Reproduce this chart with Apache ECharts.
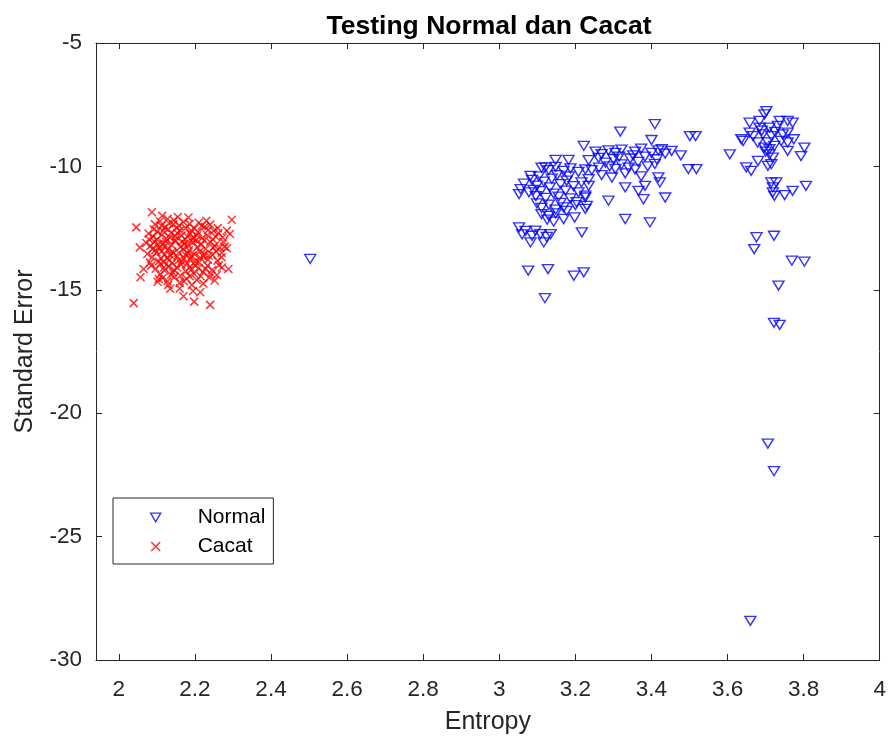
<!DOCTYPE html>
<html>
<head>
<meta charset="utf-8">
<script src="https://cdn.jsdelivr.net/npm/echarts@6/dist/echarts.min.js"></script>
<style>
  html, body { margin: 0; padding: 0; background: #ffffff; }
  #chart { width: 889px; height: 740px; }
</style>
</head>
<body>
<div id="chart"></div>
<script>
// Tick positions on both axes
const xTicks = [2, 2.2, 2.4, 2.6, 2.8, 3, 3.2, 3.4, 3.6, 3.8, 4];
const yTicks = [-30, -25, -20, -15, -10, -5];

// [Entropy, Standard Error] for the "Normal" samples
const normalData = [
  [2.503, -13.75],
  [3.409, -8.29], [3.318, -8.59], [3.501, -8.77], [3.516, -8.77], [3.222, -9.17], [3.400, -8.93],
  [3.497, -10.11], [3.518, -10.11], [3.477, -9.55], [3.453, -9.37], [3.427, -9.30], [3.414, -9.71],
  [3.418, -10.44], [3.422, -10.65], [3.436, -11.26], [3.396, -12.27], [3.331, -12.13], [3.287, -11.39],
  [3.379, -11.33], [3.366, -10.99], [3.383, -10.79], [3.331, -10.85], [3.217, -12.67], [3.196, -14.43],
  [3.222, -14.29], [3.076, -14.22], [3.128, -14.16], [3.120, -15.34], [3.052, -12.47], [3.069, -12.61],
  [3.086, -12.81], [3.082, -13.08], [3.108, -12.74], [3.117, -13.08], [3.135, -12.74], [3.125, -12.86],
  [3.198, -12.07], [3.169, -12.13], [3.143, -12.24], [3.126, -12.16], [3.169, -11.66], [3.200, -11.57],
  [3.230, -11.60], [3.226, -11.26], [3.235, -10.79],
  [3.056, -10.92], [3.052, -11.12], [3.082, -10.38], [3.121, -10.04], [3.148, -9.74], [3.182, -9.74],
  [3.111, -10.05], [3.130, -10.15], [3.148, -10.02], [3.169, -10.18], [3.187, -10.08], [3.208, -10.22], [3.226, -10.12],
  [3.065, -10.70], [3.086, -10.55], [3.099, -10.78], [3.117, -10.62], [3.138, -10.50], [3.161, -10.72],
  [3.177, -10.58], [3.195, -10.80], [3.216, -10.65], [3.235, -10.52],
  [3.078, -11.05], [3.096, -11.20], [3.109, -11.00], [3.122, -11.28], [3.143, -11.10], [3.156, -11.22],
  [3.174, -10.98], [3.187, -11.30], [3.208, -11.05], [3.226, -11.18],
  [3.099, -11.50], [3.111, -11.68], [3.130, -11.55], [3.148, -11.75], [3.161, -11.48], [3.177, -11.80],
  [3.203, -11.45], [3.226, -11.72], [3.111, -11.93], [3.130, -12.00], [3.148, -11.90],
  [3.253, -9.40], [3.269, -9.50], [3.287, -9.35], [3.305, -9.45], [3.321, -9.32], [3.357, -9.40],
  [3.373, -9.28], [3.400, -9.45], [3.418, -9.35], [3.436, -9.48],
  [3.235, -9.75], [3.261, -9.65], [3.279, -9.85], [3.300, -9.70], [3.321, -9.92], [3.344, -9.68],
  [3.365, -9.82], [3.383, -9.60], [3.409, -9.90],
  [3.243, -10.15], [3.269, -10.35], [3.305, -10.10], [3.331, -10.28], [3.357, -10.12], [3.373, -10.40],
  [3.290, -10.00], [3.315, -9.60], [3.340, -10.05], [3.352, -9.55], [3.390, -10.00], [3.262, -10.05],
  [3.296, -10.45], [3.090, -10.95], [3.104, -10.40], [3.133, -10.85], [3.152, -10.35], [3.183, -10.40],
  [3.060, -12.75], [3.095, -12.60],
  [3.702, -7.76], [3.697, -7.89], [3.684, -8.16], [3.658, -8.23], [3.737, -8.16], [3.758, -8.16],
  [3.771, -8.23], [3.732, -8.36], [3.710, -8.43], [3.684, -8.43], [3.658, -8.63], [3.667, -8.77],
  [3.636, -8.90], [3.641, -8.97], [3.693, -8.70], [3.715, -8.77], [3.745, -8.70], [3.758, -8.63],
  [3.774, -8.90], [3.758, -9.03], [3.741, -8.97], [3.679, -9.03], [3.706, -9.03], [3.697, -9.24],
  [3.710, -9.30], [3.723, -9.17], [3.758, -9.37], [3.802, -9.24], [3.793, -9.58], [3.606, -9.51],
  [3.710, -9.51], [3.719, -9.64], [3.680, -9.78], [3.649, -10.04], [3.662, -10.18], [3.706, -9.98],
  [3.715, -9.91], [3.715, -10.65], [3.728, -10.65], [3.719, -10.85], [3.723, -11.19], [3.750, -11.16],
  [3.771, -10.99], [3.806, -10.79], [3.719, -11.05], [3.676, -12.87], [3.670, -13.35], [3.722, -12.81],
  [3.769, -13.82], [3.802, -13.86], [3.734, -14.83], [3.690, -8.55], [3.725, -8.60], [3.700, -9.40],
  [3.722, -16.34], [3.737, -16.42], [3.706, -21.23], [3.722, -22.35], [3.660, -28.41]
];

// [Entropy, Standard Error] for the "Cacat" samples
const cacatData = [
  [2.046, -12.47], [2.087, -11.86], [2.297, -12.16], [2.039, -15.54], [2.240, -15.61], [2.198, -15.48],
  [2.170, -15.26], [2.135, -14.96], [2.102, -14.67], [2.057, -14.49], [2.055, -13.28], [2.288, -14.16],
  [2.292, -12.74], [2.284, -12.61], [2.284, -13.32], [2.183, -12.07], [2.114, -12.00], [2.218, -12.41],
  [2.249, -12.61], [2.214, -15.10], [2.065, -14.16], [2.105, -14.56],
  [2.095, -12.35], [2.108, -12.22], [2.121, -12.48], [2.132, -12.30], [2.145, -12.18], [2.158, -12.40],
  [2.170, -12.25], [2.186, -12.33], [2.199, -12.52], [2.210, -12.28], [2.226, -12.45], [2.240, -12.36],
  [2.078, -12.72], [2.090, -12.85], [2.101, -12.64], [2.113, -12.78], [2.125, -12.92], [2.137, -12.70],
  [2.149, -12.83], [2.161, -12.60], [2.174, -12.95], [2.187, -12.72], [2.196, -12.88], [2.208, -12.66],
  [2.219, -12.90], [2.232, -12.78], [2.247, -12.95], [2.262, -12.70], [2.273, -12.88],
  [2.072, -13.10], [2.083, -13.22], [2.094, -13.05], [2.106, -13.30], [2.117, -13.12], [2.128, -13.38],
  [2.139, -13.18], [2.150, -13.02], [2.162, -13.26], [2.173, -13.14], [2.184, -13.40], [2.195, -13.08],
  [2.206, -13.28], [2.217, -13.16], [2.228, -13.35], [2.240, -13.06], [2.252, -13.22], [2.265, -13.30],
  [2.278, -13.25], [2.256, -13.45],
  [2.075, -13.55], [2.088, -13.68], [2.099, -13.48], [2.110, -13.72], [2.121, -13.58], [2.132, -13.80],
  [2.143, -13.52], [2.154, -13.66], [2.165, -13.85], [2.176, -13.60], [2.188, -13.74], [2.199, -13.56],
  [2.211, -13.88], [2.222, -13.65], [2.234, -13.78], [2.246, -13.58], [2.259, -13.82], [2.270, -13.68],
  [2.085, -14.02], [2.097, -14.15], [2.109, -13.96], [2.120, -14.22], [2.131, -14.05], [2.142, -14.30],
  [2.153, -14.10], [2.164, -13.98], [2.176, -14.25], [2.187, -14.08], [2.198, -14.35], [2.209, -14.12],
  [2.221, -14.28], [2.233, -14.02], [2.245, -14.20], [2.258, -14.40], [2.271, -14.10],
  [2.115, -14.52], [2.128, -14.65], [2.146, -14.48], [2.160, -14.72], [2.178, -14.55], [2.192, -14.80],
  [2.205, -14.60], [2.222, -14.75], [2.238, -14.50], [2.252, -14.62],
  [2.100, -12.95], [2.112, -13.45], [2.124, -13.05], [2.136, -13.60], [2.147, -12.98], [2.158, -13.50],
  [2.169, -13.35], [2.181, -12.85], [2.192, -13.62], [2.203, -13.00], [2.118, -13.88], [2.140, -13.92],
  [2.162, -14.42], [2.180, -13.95], [2.096, -13.40], [2.130, -12.55], [2.152, -12.50], [2.176, -12.50],
  [2.205, -12.80], [2.225, -13.55], [2.215, -14.45], [2.190, -14.20], [2.145, -14.20], [2.108, -14.38],
  [2.082, -13.90], [2.260, -12.50], [2.270, -13.50], [2.242, -14.35], [2.230, -12.20], [2.155, -12.05],
  [2.128, -12.12],
  [2.092, -12.55], [2.104, -13.15], [2.116, -12.62], [2.127, -13.70], [2.134, -12.88], [2.141, -13.45],
  [2.153, -12.70], [2.166, -13.05], [2.172, -13.72], [2.183, -13.20], [2.194, -12.95], [2.201, -13.85],
  [2.213, -13.45], [2.224, -13.00], [2.236, -13.62], [2.248, -13.30], [2.263, -14.00], [2.119, -14.10],
  [2.137, -14.40], [2.157, -13.80], [2.171, -14.65], [2.186, -14.45], [2.200, -14.00], [2.214, -13.70],
  [2.228, -14.15], [2.105, -13.85], [2.088, -13.35], [2.079, -12.95], [2.112, -12.40], [2.143, -12.35],
  [2.165, -12.80], [2.190, -12.60], [2.235, -12.58], [2.255, -12.85], [2.275, -13.05], [2.160, -14.95],
  [2.130, -14.80], [2.195, -15.05], [2.120, -13.25], [2.180, -13.50]
];

const FONT = '"Liberation Sans", Arial, Helvetica, sans-serif';
const AXIS_COLOR = '#262626';
const TRIANGLE_DOWN = 'path://M0,0L10,0L5,8.66Z';
const CROSS = 'path://M0,0L10,10M10,0L0,10';

const normalStyle = { color: 'rgba(0,0,0,0)', borderColor: '#0000ff', borderWidth: 1.4 };
const cacatStyle = { color: 'rgba(0,0,0,0)', borderColor: '#ff0000', borderWidth: 1.5 };

const fmtX = v => String(Math.round(v * 10) / 10);

const boxAxisCommon = {
  axisLine: { show: true, onZero: false, lineStyle: { color: AXIS_COLOR, width: 1 } },
  splitLine: { show: false }
};

const chart = echarts.init(document.getElementById('chart'), null, { renderer: 'canvas' });

chart.setOption({
  animation: false,
  backgroundColor: '#ffffff',
  title: {
    text: 'Testing Normal dan Cacat',
    left: 484,
    top: 8,
    textAlign: 'center',
    textStyle: { fontFamily: FONT, fontSize: 26.5, fontWeight: 'bold', color: '#000000' }
  },
  grid: { left: 96, top: 43, width: 784, height: 619, containLabel: false },
  legend: {
    orient: 'vertical',
    left: 113,
    top: 498,
    padding: [9, 8, 7, 37],
    itemGap: 8,
    itemWidth: 10,
    itemHeight: 9,
    backgroundColor: '#ffffff',
    borderColor: AXIS_COLOR,
    borderWidth: 1,
    selectedMode: false,
    textStyle: { fontFamily: FONT, fontSize: 21, color: '#000000', padding: [0, 0, 0, 32] },
    data: [
      { name: 'Normal', icon: TRIANGLE_DOWN, itemStyle: normalStyle },
      { name: 'Cacat', icon: CROSS, itemStyle: cacatStyle }
    ]
  },
  xAxis: [
    Object.assign({}, boxAxisCommon, {
      type: 'value', position: 'bottom', min: 1.94, max: 4,
      name: 'Entropy', nameLocation: 'middle', nameGap: 50,
      nameTextStyle: { fontFamily: FONT, fontSize: 25, color: AXIS_COLOR },
      axisTick: { show: true, inside: true, length: 6, lineStyle: { color: AXIS_COLOR }, customValues: xTicks },
      axisLabel: { show: true, margin: 18, fontFamily: FONT, fontSize: 22.5, color: AXIS_COLOR, customValues: xTicks, formatter: fmtX }
    }),
    Object.assign({}, boxAxisCommon, {
      type: 'value', position: 'top', min: 1.94, max: 4,
      axisTick: { show: true, inside: true, length: 6, lineStyle: { color: AXIS_COLOR }, customValues: xTicks },
      axisLabel: { show: false, customValues: xTicks }
    })
  ],
  yAxis: [
    Object.assign({}, boxAxisCommon, {
      type: 'value', position: 'left', min: -30, max: -5, interval: 5,
      name: 'Standard Error', nameLocation: 'middle', nameGap: 58, nameRotate: 90,
      nameTextStyle: { fontFamily: FONT, fontSize: 25, color: AXIS_COLOR },
      axisTick: { show: true, inside: true, length: 6, lineStyle: { color: AXIS_COLOR }, customValues: yTicks },
      axisLabel: { show: true, margin: 14, fontFamily: FONT, fontSize: 22.5, color: AXIS_COLOR, customValues: yTicks }
    }),
    Object.assign({}, boxAxisCommon, {
      type: 'value', position: 'right', min: -30, max: -5, interval: 5,
      axisTick: { show: true, inside: true, length: 6, lineStyle: { color: AXIS_COLOR }, customValues: yTicks },
      axisLabel: { show: false, customValues: yTicks }
    })
  ],
  series: [
    {
      name: 'Normal',
      type: 'scatter',
      xAxisIndex: 0,
      yAxisIndex: 0,
      symbol: TRIANGLE_DOWN,
      symbolSize: [11, 9],
      itemStyle: normalStyle,
      emphasis: { disabled: true },
      data: normalData
    },
    {
      name: 'Cacat',
      type: 'scatter',
      xAxisIndex: 0,
      yAxisIndex: 0,
      symbol: CROSS,
      symbolSize: 8,
      itemStyle: cacatStyle,
      emphasis: { disabled: true },
      data: cacatData
    }
  ]
});
</script>
</body>
</html>
